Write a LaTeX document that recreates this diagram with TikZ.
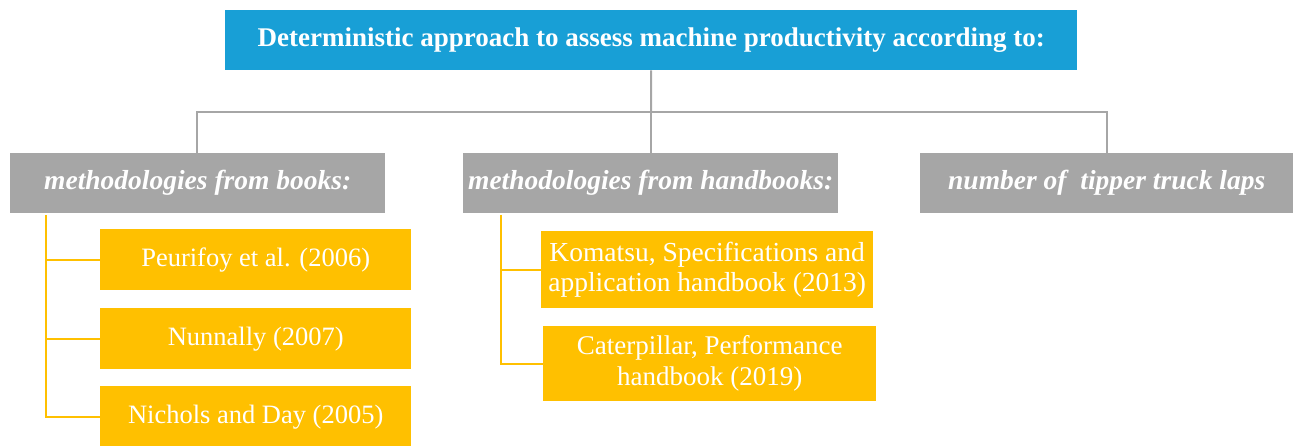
\documentclass[tikz,border=0pt]{standalone}
\usepackage{fontspec}
\setmainfont{Liberation Serif}
\definecolor{topblue}{HTML}{189FD6}
\definecolor{boxgray}{HTML}{A6A6A6}
\definecolor{boxyellow}{HTML}{FFC000}
\begin{document}
\begin{tikzpicture}[x=1pt,y=-1pt,
  topbox/.style={fill=topblue,text=white,font=\fontsize{27}{32}\selectfont\bfseries,inner sep=0pt,anchor=north west},
  catbox/.style={fill=boxgray,text=white,font=\fontsize{27.5}{32}\selectfont\bfseries\itshape,inner sep=0pt,anchor=north west},
  itembox/.style={fill=boxyellow,text=white,font=\fontsize{26.5}{31}\selectfont,inner sep=0pt,anchor=north west,align=center},
  grayline/.style={draw=boxgray,line width=2pt},
  yelline/.style={draw=boxyellow,line width=2pt}]
\useasboundingbox (0,0) rectangle (1293,446);
\node[topbox,minimum width=852pt,minimum height=60pt] (top) at (225,10) {Deterministic approach to assess machine productivity according to:};
\node[catbox,minimum width=375pt,minimum height=60pt] (books) at (10,153) {methodologies from books:};
\node[catbox,minimum width=375pt,minimum height=60pt] (hand) at (463,153) {methodologies from handbooks:};
\node[catbox,minimum width=373pt,minimum height=60pt] (laps) at (920,153) {number of\ \ tipper truck laps};
\node[itembox,minimum width=311pt,minimum height=61pt] (p1) at (100,229) {Peurifoy et al. (2006)};
\node[itembox,minimum width=311pt,minimum height=61pt] (p2) at (100,308) {Nunnally (2007)};
\node[itembox,minimum width=311pt,minimum height=61pt] (p3) at (100,386) {Nichols and Day (2005)};
\node[itembox,minimum width=332pt,minimum height=77pt,font=\fontsize{27.5}{30}\selectfont] (h1) at (541,231) {Komatsu, Specifications and\\application handbook (2013)};
\node[itembox,minimum width=333pt,minimum height=75pt,font=\fontsize{27}{31}\selectfont] (h2) at (543,326) {Caterpillar, Performance\\handbook (2019)};
\coordinate (bus) at (651,112);
\draw[grayline] (top.south) -- (bus);
\draw[grayline] (books.north -| 197,0) |- (bus) -| (laps.north -| 1107,0);
\draw[grayline] (bus) -- (hand.north -| bus);
\coordinate (bl) at (46,215);
\draw[yelline] (bl) |- (p3.west);
\draw[yelline] (bl |- p1.west) -- (p1.west);
\draw[yelline] (bl |- p2.west) -- (p2.west);
\coordinate (hl) at (501,215);
\draw[yelline] (hl) |- (h2.west);
\draw[yelline] (hl |- h1.west) -- (h1.west);
\end{tikzpicture}
\end{document}
